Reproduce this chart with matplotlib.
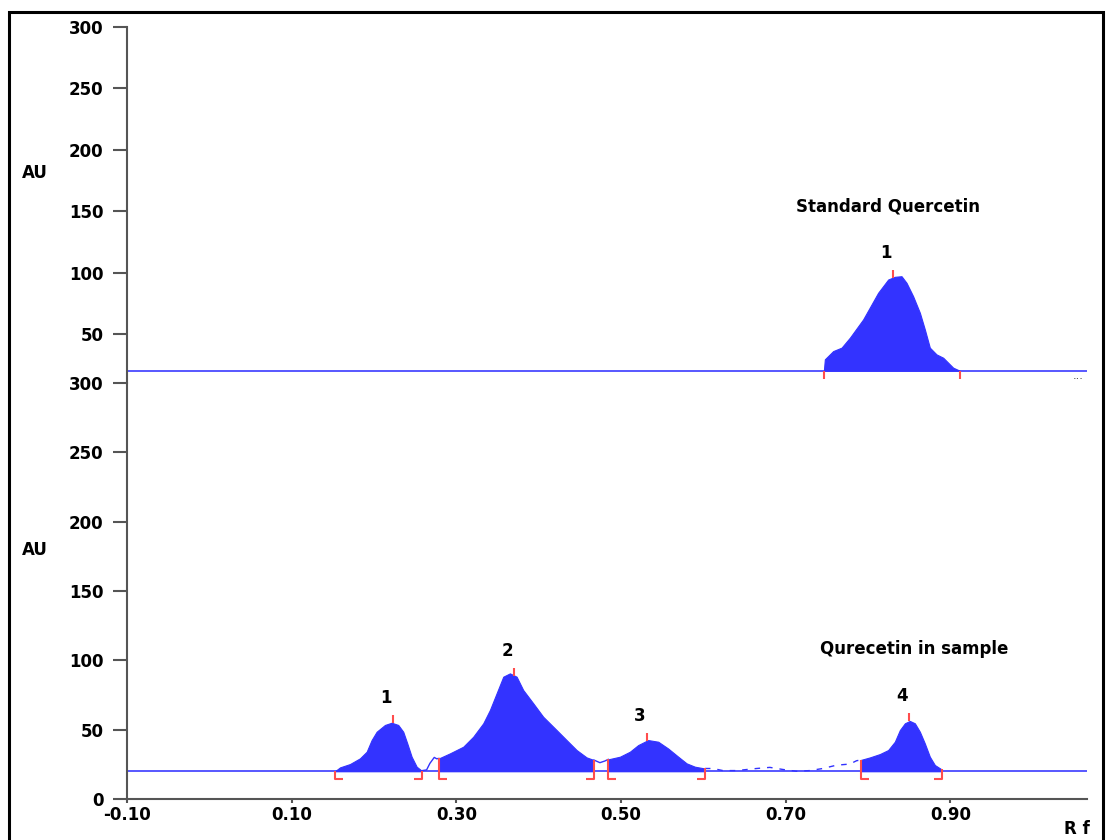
import matplotlib
matplotlib.use("Agg")
import matplotlib.pyplot as plt
import numpy as np
from matplotlib.path import Path
from matplotlib.patches import Rectangle

# ---- data (Rf, AU) ----
baseline = 20

# standard quercetin track
std_rf = [0.7464, 0.7476, 0.7577, 0.7679, 0.7780, 0.7941, 0.8123, 0.8245, 0.8326,
          0.8407, 0.8468, 0.8548, 0.8630, 0.8690, 0.8751, 0.8832, 0.8913, 0.9034, 0.9115]
std_au = [20, 29.3, 36, 38.8, 46.9, 61.8, 83.5, 94.3, 96.5,
          97, 91.6, 80.7, 67.2, 53.7, 38.8, 33.3, 30.6, 22.5, 20]
std_peak_rf = [0.8302]
std_labels = ["1"]

# sample track, integrated peaks
p1_rf = [0.1526, 0.1587, 0.1708, 0.1829, 0.1911, 0.1971, 0.2032, 0.2133, 0.2214,
         0.2294, 0.2355, 0.2404, 0.2457, 0.2518, 0.2579]
p1_au = [20, 22.8, 25.2, 29.3, 34.1, 42.5, 48.5, 53.4, 55,
         53.4, 48.5, 40.1, 30.5, 23.3, 20.4]
p2_rf = [0.2789, 0.2922, 0.3084, 0.3205, 0.3327, 0.3408, 0.3489, 0.3570, 0.3651,
         0.3732, 0.3812, 0.3934, 0.4055, 0.4218, 0.4339, 0.4461, 0.4582, 0.4671]
p2_au = [29.3, 32.9, 37.7, 44.9, 54.6, 64.2, 76.2, 88.2, 90.6,
         88.2, 78.6, 69, 59.3, 49.7, 42.5, 35.3, 30, 28.1]
p3_rf = [0.4845, 0.4987, 0.5108, 0.5209, 0.5330, 0.5452, 0.5573, 0.5695, 0.5797,
         0.5897, 0.6019]
p3_au = [28.6, 30.5, 34.1, 38.9, 42.5, 41.3, 36.4, 30.5, 25.7, 23.3, 22]
p4_rf = [0.7909, 0.8023, 0.8144, 0.8245, 0.8326, 0.8387, 0.8448, 0.8508, 0.8569,
         0.8630, 0.8690, 0.8751, 0.8812, 0.8893]
p4_au = [28.1, 30, 32.4, 35.3, 41.3, 49.7, 54.6, 56.3, 54.6,
         48.5, 40.1, 30.5, 24.5, 21.4]
sample_peak_rf = [0.2234, 0.3703, 0.5315, 0.8500]
sample_labels = ["1", "2", "3", "4"]

# sample track, un-integrated signal between peaks
gap1_rf = [0.2579, 0.2639, 0.2679, 0.2732, 0.2761, 0.2789]
gap1_au = [20.4, 21, 25.7, 30, 29, 29.3]
gap2_rf = [0.4671, 0.4744, 0.4804, 0.4845]
gap2_au = [28.1, 26.2, 27.4, 28.6]
gap3_rf = [0.6019, 0.6116, 0.6237, 0.6404, 0.6647, 0.6808, 0.6966, 0.7132, 0.7294,
           0.7452, 0.7618, 0.7780, 0.7861, 0.7909]
gap3_au = [22, 22, 20.5, 20.5, 22, 22.8, 21.3, 20, 20.5, 22, 24.4, 25.2, 27.6, 28.1]

xticks = [-0.10, 0.10, 0.30, 0.50, 0.70, 0.90]
xtick_labels = ["-0.10", "0.10", "0.30", "0.50", "0.70", "0.90"]
top_yticks = [50, 100, 150, 200, 250, 300]
bot_yticks = [0, 50, 100, 150, 200, 250, 300]

fill_c = "#3333ff"
line_c = "#4a4aff"
red = "#ff4d4d"
spine_c = "#555555"
font = dict(family="DejaVu Sans", weight="bold", size=12)

W, H = 1106, 840
fig = plt.figure(figsize=(W / 100, H / 100), dpi=100)
ax_top = fig.add_axes([127 / W, 1 - 383 / H, 960 / W, 356 / H])
ax_bot = fig.add_axes([127 / W, 1 - 799 / H, 960 / W, 416 / H])

start_foot = Path([(0, 0), (0, -1), (1, -1)], [Path.MOVETO, Path.LINETO, Path.LINETO])
end_foot = Path([(0, 0), (0, -1), (-1, -1)], [Path.MOVETO, Path.LINETO, Path.LINETO])


def peak_label(ax, rf, prof_rf, prof_au, text):
    h = np.interp(rf, prof_rf, prof_au)
    ax.plot([rf], [h], marker=2, ms=6, mew=1.5, color=red, ls="none", zorder=4)
    ax.annotate(text, (rf, h), xytext=(-5, 18), textcoords="offset points",
                ha="center", va="center", **font)


# top track
ax_top.axhline(baseline, color=line_c, lw=1.3, zorder=2)
ax_top.fill_between(std_rf, baseline, std_au, color=fill_c, lw=0.8, zorder=3)
for b in [std_rf[0], std_rf[-1]]:
    v = np.interp(b, std_rf, std_au)
    ax_top.vlines(b, baseline, v, color=red, lw=1.5, zorder=4)
    ax_top.plot([b], [baseline], marker=3, ms=5.5, mew=1.5, color=red, zorder=4)
for rf, lab in zip(std_peak_rf, std_labels):
    peak_label(ax_top, rf, std_rf, std_au, lab)
ax_top.text(0.824, 153.5, "Standard Quercetin", ha="center", va="center", **font)

# bottom track
ax_bot.axhline(baseline, color=line_c, lw=1.3, zorder=2)
all_rf = p1_rf + p2_rf + p3_rf + p4_rf
all_au = p1_au + p2_au + p3_au + p4_au
for prf, pau in [(p1_rf, p1_au), (p2_rf, p2_au), (p3_rf, p3_au), (p4_rf, p4_au)]:
    ax_bot.fill_between(prf, baseline, pau, color=fill_c, lw=0.8, zorder=3)
    ax_bot.vlines(prf[0], baseline, pau[0], color=red, lw=1.5, zorder=4)
    ax_bot.vlines(prf[-1], baseline, pau[-1], color=red, lw=1.5, zorder=4)
    ax_bot.plot([prf[0]], [baseline], marker=start_foot, ms=11.5, mew=1.5,
                mfc="none", color=red, zorder=4)
    ax_bot.plot([prf[-1]], [baseline], marker=end_foot, ms=11.5, mew=1.5,
                mfc="none", color=red, zorder=4)
ax_bot.plot(gap1_rf, gap1_au, color=fill_c, lw=1, zorder=3)
ax_bot.plot(gap2_rf, gap2_au, color=fill_c, lw=1, zorder=3)
ax_bot.plot(gap3_rf, gap3_au, color=fill_c, lw=1, ls=(0, (4, 5)), zorder=3)
for rf, lab in zip(sample_peak_rf, sample_labels):
    peak_label(ax_bot, rf, all_rf, all_au, lab)
ax_bot.text(0.8557, 108, "Qurecetin in sample", ha="center", va="center", **font)

# axes styling
for ax in (ax_top, ax_bot):
    ax.set_xlim(-0.10, 1.066)
    ax.set_facecolor("none")
    for s in ("top", "right"):
        ax.spines[s].set_visible(False)
    ax.spines["left"].set_color(spine_c)
    ax.spines["left"].set_linewidth(1.5)
    ax.tick_params(axis="y", length=10, width=1.5, color=spine_c, pad=7)

ax_top.set_ylim(10, 300)
ax_top.set_yticks(top_yticks)
ax_top.set_yticklabels([str(v) for v in top_yticks], **font)
ax_top.spines["bottom"].set_visible(False)
ax_top.set_xticks([])

ax_bot.set_ylim(0, 300)
ax_bot.set_yticks(bot_yticks)
ax_bot.set_yticklabels([str(v) for v in bot_yticks], **font)
ax_bot.spines["bottom"].set_color(spine_c)
ax_bot.spines["bottom"].set_linewidth(1.5)
ax_bot.set_xticks(xticks)
ax_bot.set_xticklabels(xtick_labels, **font)
ax_bot.tick_params(axis="x", length=3, width=1.5, color=spine_c, pad=2)

fig.text(22 / W, 1 - 173 / H, "AU", ha="left", va="center", **font)
fig.text(22 / W, 1 - 550 / H, "AU", ha="left", va="center", **font)
fig.text(1077 / W, 1 - 829 / H, "R f", ha="center", va="center", **font)
fig.text(1078 / W, 1 - 376 / H, "...", ha="center", va="center", fontsize=8, color="#333333")

fig.add_artist(Rectangle((9 / W, -0.05), 1094 / W, 1.05 - 12.5 / H, transform=fig.transFigure,
                         fill=False, edgecolor="black", lw=2.2))

fig.savefig("out.png", dpi=100)
